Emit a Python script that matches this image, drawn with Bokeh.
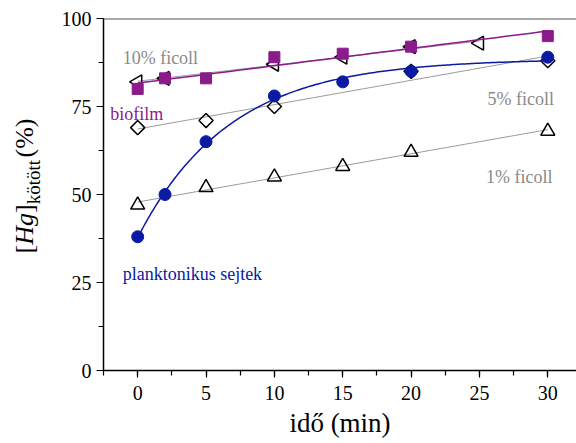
import numpy as np
from bokeh.plotting import figure
from bokeh.layouts import row
from bokeh.models import Span, Label, Range1d, SingleIntervalTicker
from bokeh.embed import file_html
from bokeh.resources import INLINE

# ---- data ----
time_biofilm = [0, 2, 5, 10, 15, 20, 30]
hg_biofilm = [80, 83, 83, 89, 90, 92, 95]
time_plankton = [0, 2, 5, 10, 15, 20, 30]
hg_plankton = [38, 50, 65, 78, 82, 85, 89]
time_f10 = [0, 2, 10, 15, 20, 25]
hg_f10 = [82, 83, 87, 89, 92, 93]
time_f5 = [0, 5, 10, 20, 30]
hg_f5 = [69, 71, 75, 85, 88]
time_f1 = [0, 5, 10, 15, 20, 30]
hg_f1 = [47, 52, 55, 58, 62, 68]

SERIF = "Liberation Serif"
PURPLE = "#8B1A8B"
BLUE = "#0B1AA2"
GRAY = "#9A9A9A"
GRAYTXT = "#8A8A8A"

W_LAB, H = 48, 443
TOP, BOTTOM = 18, 73

def linfit(x, y):
    x = np.asarray(x, float); y = np.asarray(y, float)
    k, b = np.polyfit(x, y, 1)
    xs = np.linspace(x.min(), x.max(), 50)
    return xs, k * xs + b

def expfit(x, y):
    x = np.asarray(x, float); y = np.asarray(y, float)
    best = None
    for k in np.linspace(0.01, 1.0, 2000):
        A = np.column_stack([np.ones_like(x), -np.exp(-k * x)])
        coef, *_ = np.linalg.lstsq(A, y, rcond=None)
        r = np.sum((A @ coef - y) ** 2)
        if best is None or r < best[0]:
            best = (r, k, coef)
    _, k, (a, b) = best
    xs = np.linspace(x.min(), x.max(), 200)
    return xs, a - b * np.exp(-k * xs)

p = figure(width=576 - W_LAB, height=H, output_backend="svg", toolbar_location=None,
           x_range=Range1d(-2.5, 32.1), y_range=Range1d(0, 100),
           min_border_left=103 - W_LAB, min_border_right=0, min_border_top=TOP,
           min_border_bottom=BOTTOM)
p.outline_line_color = None
p.xgrid.visible = False
p.ygrid.visible = False

p.xaxis.ticker = SingleIntervalTicker(interval=5, num_minor_ticks=2)
p.yaxis.ticker = SingleIntervalTicker(interval=25, num_minor_ticks=2)
for ax in (p.xaxis[0], p.yaxis[0]):
    ax.axis_line_color = "black"
    ax.axis_line_width = 1.5
    ax.major_tick_line_color = "black"
    ax.minor_tick_line_color = "black"
    ax.major_tick_line_width = 1.2
    ax.minor_tick_line_width = 1.2
    ax.major_tick_in = 0
    ax.major_tick_out = 7
    ax.minor_tick_in = 0
    ax.minor_tick_out = 5
    ax.major_label_text_font = SERIF
    ax.major_label_text_font_size = "20px"
    ax.major_label_text_color = "black"
    ax.major_label_standoff = 5
p.xaxis.major_label_standoff = 8
p.xaxis.axis_label = "idő (min)"
p.xaxis.axis_label_text_font = SERIF
p.xaxis.axis_label_text_font_size = "27px"
p.xaxis.axis_label_text_font_style = "normal"
p.xaxis.axis_label_text_color = "black"
p.xaxis.axis_label_standoff = 5

p.add_layout(Span(location=100, dimension="width", line_color="#555555", line_width=2))

# gray ficoll fit lines
for tx, hy in ((time_f10, hg_f10), (time_f5, hg_f5), (time_f1, hg_f1)):
    xs, ys = linfit(tx, hy)
    p.line(xs, ys, line_color=GRAY, line_width=1)

# ficoll markers
p.scatter(time_f1, hg_f1, marker="triangle", size=14, fill_alpha=0,
          line_color="black", line_width=1.5)
p.scatter(time_f10, hg_f10, marker="triangle", angle=np.pi / 2, size=14,
          fill_alpha=0, line_color="black", line_width=1.5)
diam_fill = [BLUE if t in time_plankton and h == hg_plankton[time_plankton.index(t)] else "white"
             for t, h in zip(time_f5, hg_f5)]
diam_alpha = [1 if c == BLUE else 0 for c in diam_fill]
p.scatter(time_f5, hg_f5, marker="square", angle=np.pi / 4, size=10,
          fill_color=diam_fill, fill_alpha=diam_alpha, line_color="black", line_width=1.5)

# planktonic cells
xs, ys = expfit(time_plankton, hg_plankton)
p.line(xs, ys, line_color=BLUE, line_width=1.5)
p.scatter(time_plankton, hg_plankton, marker="circle", size=12,
          fill_color=BLUE, line_color=BLUE)

# biofilm
xs, ys = linfit(time_biofilm, hg_biofilm)
p.line(xs, ys, line_color=PURPLE, line_width=1.5)
p.scatter(time_biofilm, hg_biofilm, marker="square", size=11,
          fill_color=PURPLE, line_color=PURPLE)

# annotations
def lab(x, y, text, color, align="left", size="18px"):
    p.add_layout(Label(x=x, y=y, text=text, text_color=color, text_font=SERIF,
                       text_font_size=size, text_align=align,
                       text_baseline="alphabetic"))

lab(-1.1, 88.8, "10% ficoll", GRAYTXT)
lab(-2.0, 73.0, "biofilm", PURPLE)
lab(30.45, 77.0, "5% ficoll", GRAYTXT, align="right")
lab(30.35, 54.9, "1% ficoll", GRAYTXT, align="right")
lab(-1.1, 27.3, "planktonikus sejtek", BLUE)

# narrow side figure carrying the rotated y-axis label; its frame is aligned
# with the main frame, so the range is set to page-pixel units (y = H - py)
q = figure(width=W_LAB, height=H, output_backend="svg", toolbar_location=None,
           x_range=Range1d(0, W_LAB), y_range=Range1d(BOTTOM, H - TOP),
           x_axis_location=None, y_axis_location=None,
           min_border_left=0, min_border_right=0, min_border_top=TOP,
           min_border_bottom=BOTTOM)
q.outline_line_color = None
q.xgrid.visible = False
q.ygrid.visible = False

def ypiece(x, y, text, size, style="normal"):
    q.add_layout(Label(x=x, y=y, text=text, angle=90, angle_units="deg",
                       text_color="black", text_font=SERIF, text_font_size=size,
                       text_font_style=style, text_align="left",
                       text_baseline="bottom"))

ypiece(38.5, H - 253, "[", "26px")
ypiece(38.5, H - 244.3, "Hg", "26px", "italic")
ypiece(38.5, H - 212.5, "]", "26px")
ypiece(43, H - 203.8, "kötött", "19px")
ypiece(38.5, H - 157, " (%)", "26px")

layout = row(q, p, spacing=0)
open("out.html", "w").write(file_html(layout, INLINE))
